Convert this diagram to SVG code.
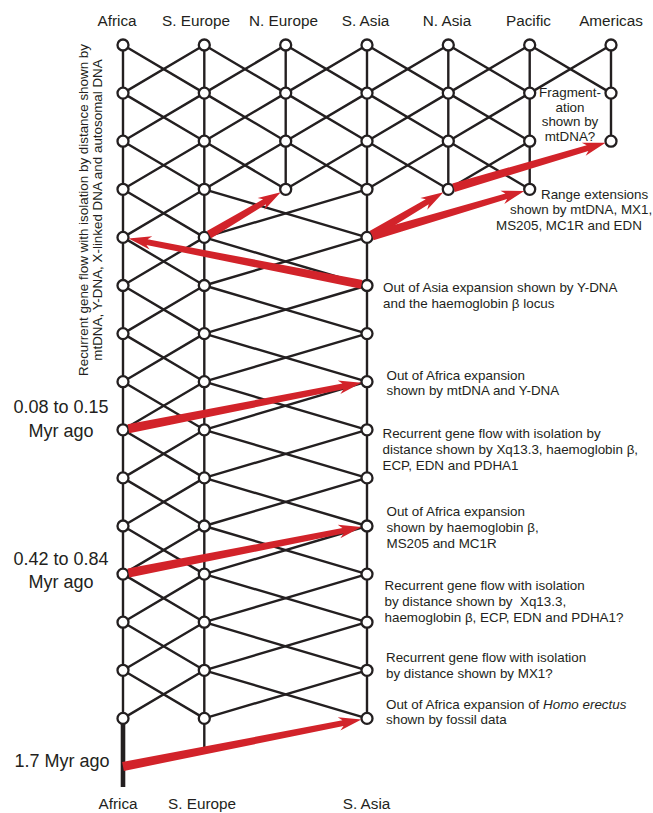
<svg xmlns="http://www.w3.org/2000/svg" width="653" height="813" viewBox="0 0 653 813">
<style>
.ln{stroke:#231f20;stroke-width:2.4;fill:none;stroke-linejoin:round}
.nd{fill:#fff;stroke:#231f20;stroke-width:2.3}
.ar{fill:#d2232a}
text{font-family:"Liberation Sans",Arial,Helvetica,sans-serif;fill:#231f20}
.lb{font-size:13.4px}
.cl{font-size:15.3px;text-anchor:middle}
.tm{font-size:18px;text-anchor:middle}
</style>
<rect width="653" height="813" fill="#fff"/>
<g id="connectors">
<polyline class="ln" points="123,45 204.3,93.1 123,141.2 204.3,189.3 123,237.4 204.3,285.5 123,333.6 204.3,381.7 123,429.8 204.3,477.9 123,526 204.3,574.1 123,622.2 204.3,670.3 123,718.4"/>
<polyline class="ln" points="204.3,45 123,93.1 204.3,141.2 123,189.3 204.3,237.4 123,285.5 204.3,333.6 123,381.7 204.3,429.8 123,477.9 204.3,526 123,574.1 204.3,622.2 123,670.3 204.3,718.4"/>
<polyline class="ln" points="204.3,45 285.7,93.1 204.3,141.2 285.7,189.3"/>
<polyline class="ln" points="285.7,45 204.3,93.1 285.7,141.2 204.3,189.3"/>
<polyline class="ln" points="285.7,45 367,93.1 285.7,141.2 367,189.3"/>
<polyline class="ln" points="367,45 285.7,93.1 367,141.2 285.7,189.3"/>
<polyline class="ln" points="367,45 448.3,93.1 367,141.2 448.3,189.3"/>
<polyline class="ln" points="448.3,45 367,93.1 448.3,141.2 367,189.3"/>
<polyline class="ln" points="448.3,45 529.7,93.1 448.3,141.2 529.7,189.3"/>
<polyline class="ln" points="529.7,45 448.3,93.1 529.7,141.2 448.3,189.3"/>
<polyline class="ln" points="529.7,45 611,93.1"/>
<polyline class="ln" points="611,45 529.7,93.1"/>
<polyline class="ln" points="204.3,189.3 367,237.4 204.3,285.5 367,333.6 204.3,381.7 367,429.8 204.3,477.9 367,526 204.3,574.1 367,622.2 204.3,670.3 367,718.4"/>
<polyline class="ln" points="367,189.3 204.3,237.4 367,285.5 204.3,333.6 367,381.7 204.3,429.8 367,477.9 204.3,526 367,574.1 204.3,622.2 367,670.3 204.3,718.4"/>
<line class="ln" x1="123" y1="45" x2="123" y2="718.4"/>
<line class="ln" x1="123" y1="718.4" x2="123" y2="787" style="stroke-width:4.6"/>
<line class="ln" x1="204.3" y1="45" x2="204.3" y2="748.5"/>
<line class="ln" x1="285.7" y1="45" x2="285.7" y2="189.3"/>
<line class="ln" x1="367" y1="45" x2="367" y2="718.4"/>
<line class="ln" x1="448.3" y1="45" x2="448.3" y2="189.3"/>
<line class="ln" x1="529.7" y1="45" x2="529.7" y2="189.3"/>
<line class="ln" x1="611" y1="45" x2="611" y2="141.2"/>
</g>
<g id="nodes">
<g id="af0"><circle class="nd" cx="123" cy="45" r="5.5"/></g>
<g id="se0"><circle class="nd" cx="204.3" cy="45" r="5.5"/></g>
<g id="ne0"><circle class="nd" cx="285.7" cy="45" r="5.5"/></g>
<g id="sa0"><circle class="nd" cx="367" cy="45" r="5.5"/></g>
<g id="na0"><circle class="nd" cx="448.3" cy="45" r="5.5"/></g>
<g id="pa0"><circle class="nd" cx="529.7" cy="45" r="5.5"/></g>
<g id="am0"><circle class="nd" cx="611" cy="45" r="5.5"/></g>
<g id="af1"><circle class="nd" cx="123" cy="93.1" r="5.5"/></g>
<g id="se1"><circle class="nd" cx="204.3" cy="93.1" r="5.5"/></g>
<g id="ne1"><circle class="nd" cx="285.7" cy="93.1" r="5.5"/></g>
<g id="sa1"><circle class="nd" cx="367" cy="93.1" r="5.5"/></g>
<g id="na1"><circle class="nd" cx="448.3" cy="93.1" r="5.5"/></g>
<g id="pa1"><circle class="nd" cx="529.7" cy="93.1" r="5.5"/></g>
<g id="am1"><circle class="nd" cx="611" cy="93.1" r="5.5"/></g>
<g id="af2"><circle class="nd" cx="123" cy="141.2" r="5.5"/></g>
<g id="se2"><circle class="nd" cx="204.3" cy="141.2" r="5.5"/></g>
<g id="ne2"><circle class="nd" cx="285.7" cy="141.2" r="5.5"/></g>
<g id="sa2"><circle class="nd" cx="367" cy="141.2" r="5.5"/></g>
<g id="na2"><circle class="nd" cx="448.3" cy="141.2" r="5.5"/></g>
<g id="pa2"><circle class="nd" cx="529.7" cy="141.2" r="5.5"/></g>
<g id="am2"><circle class="nd" cx="611" cy="141.2" r="5.5"/></g>
<g id="af3"><circle class="nd" cx="123" cy="189.3" r="5.5"/></g>
<g id="se3"><circle class="nd" cx="204.3" cy="189.3" r="5.5"/></g>
<g id="ne3"><circle class="nd" cx="285.7" cy="189.3" r="5.5"/></g>
<g id="sa3"><circle class="nd" cx="367" cy="189.3" r="5.5"/></g>
<g id="na3"><circle class="nd" cx="448.3" cy="189.3" r="5.5"/></g>
<g id="pa3"><circle class="nd" cx="529.7" cy="189.3" r="5.5"/></g>
<g id="af4"><circle class="nd" cx="123" cy="237.4" r="5.5"/></g>
<g id="se4"><circle class="nd" cx="204.3" cy="237.4" r="5.5"/></g>
<g id="sa4"><circle class="nd" cx="367" cy="237.4" r="5.5"/></g>
<g id="af5"><circle class="nd" cx="123" cy="285.5" r="5.5"/></g>
<g id="se5"><circle class="nd" cx="204.3" cy="285.5" r="5.5"/></g>
<g id="sa5"><circle class="nd" cx="367" cy="285.5" r="5.5"/></g>
<g id="af6"><circle class="nd" cx="123" cy="333.6" r="5.5"/></g>
<g id="se6"><circle class="nd" cx="204.3" cy="333.6" r="5.5"/></g>
<g id="sa6"><circle class="nd" cx="367" cy="333.6" r="5.5"/></g>
<g id="af7"><circle class="nd" cx="123" cy="381.7" r="5.5"/></g>
<g id="se7"><circle class="nd" cx="204.3" cy="381.7" r="5.5"/></g>
<g id="sa7"><circle class="nd" cx="367" cy="381.7" r="5.5"/></g>
<g id="af8"><circle class="nd" cx="123" cy="429.8" r="5.5"/></g>
<g id="se8"><circle class="nd" cx="204.3" cy="429.8" r="5.5"/></g>
<g id="sa8"><circle class="nd" cx="367" cy="429.8" r="5.5"/></g>
<g id="af9"><circle class="nd" cx="123" cy="477.9" r="5.5"/></g>
<g id="se9"><circle class="nd" cx="204.3" cy="477.9" r="5.5"/></g>
<g id="sa9"><circle class="nd" cx="367" cy="477.9" r="5.5"/></g>
<g id="af10"><circle class="nd" cx="123" cy="526" r="5.5"/></g>
<g id="se10"><circle class="nd" cx="204.3" cy="526" r="5.5"/></g>
<g id="sa10"><circle class="nd" cx="367" cy="526" r="5.5"/></g>
<g id="af11"><circle class="nd" cx="123" cy="574.1" r="5.5"/></g>
<g id="se11"><circle class="nd" cx="204.3" cy="574.1" r="5.5"/></g>
<g id="sa11"><circle class="nd" cx="367" cy="574.1" r="5.5"/></g>
<g id="af12"><circle class="nd" cx="123" cy="622.2" r="5.5"/></g>
<g id="se12"><circle class="nd" cx="204.3" cy="622.2" r="5.5"/></g>
<g id="sa12"><circle class="nd" cx="367" cy="622.2" r="5.5"/></g>
<g id="af13"><circle class="nd" cx="123" cy="670.3" r="5.5"/></g>
<g id="se13"><circle class="nd" cx="204.3" cy="670.3" r="5.5"/></g>
<g id="sa13"><circle class="nd" cx="367" cy="670.3" r="5.5"/></g>
<g id="af14"><circle class="nd" cx="123" cy="718.4" r="5.5"/></g>
<g id="se14"><circle class="nd" cx="204.3" cy="718.4" r="5.5"/></g>
<g id="sa14"><circle class="nd" cx="367" cy="718.4" r="5.5"/></g>
</g>
<g id="arrows" class="ar">
<polygon transform="translate(123,766.5) rotate(-11.15)" points="0,-4.5 224.2,-2.9 220.2,-6.8 243,0 220.2,6.8 224.2,2.9 0,4.5"/>
<polygon transform="translate(123,574.1) rotate(-11.15)" points="5.5,-4.5 224.2,-2.9 220.2,-6.8 243,0 220.2,6.8 224.2,2.9 5.5,4.5"/>
<polygon transform="translate(123,429.8) rotate(-11.15)" points="5.5,-4.5 224.2,-2.9 220.2,-6.8 243,0 220.2,6.8 224.2,2.9 5.5,4.5"/>
<polygon transform="translate(367,285.5) rotate(-168.85)" points="5.5,-4.5 224.2,-2.9 220.2,-6.8 243,0 220.2,6.8 224.2,2.9 5.5,4.5"/>
<polygon transform="translate(204.3,237.4) rotate(-30.58)" points="5.5,-4.2 70,-2.9 66,-6.8 88.8,0 66,6.8 70,2.9 5.5,4.2"/>
<polygon transform="translate(367,237.4) rotate(-30.61)" points="5.5,-4.2 70,-2.9 66,-6.8 88.8,0 66,6.8 70,2.9 5.5,4.2"/>
<polygon transform="translate(367,237.4) rotate(-16.47)" points="5.5,-4.5 145.2,-2.9 141.2,-6.8 164,0 141.2,6.8 145.2,2.9 5.5,4.5"/>
<polygon transform="translate(448.3,189.3) rotate(-16.47)" points="5.5,-4.5 145.2,-2.9 141.2,-6.8 164,0 141.2,6.8 145.2,2.9 5.5,4.5"/>
</g>
<g id="column-labels">
<text class="cl" x="117" y="25.5">Africa</text>
<text class="cl" x="196" y="25.5">S. Europe</text>
<text class="cl" x="283.5" y="25.5">N. Europe</text>
<text class="cl" x="365.5" y="25.5">S. Asia</text>
<text class="cl" x="447" y="25.5">N. Asia</text>
<text class="cl" x="528.5" y="25.5">Pacific</text>
<text class="cl" x="611" y="25.5">Americas</text>
<text class="cl" x="118" y="808.5">Africa</text>
<text class="cl" x="202" y="808.5">S. Europe</text>
<text class="cl" x="366.5" y="808.5">S. Asia</text>
</g>
<g id="time-labels">
<text class="tm" x="61" y="413">0.08 to 0.15</text>
<text class="tm" x="61" y="436.5">Myr ago</text>
<text class="tm" x="61" y="565">0.42 to 0.84</text>
<text class="tm" x="61" y="587.5">Myr ago</text>
<text class="tm" x="62" y="766.5">1.7 Myr ago</text>
</g>
<g id="side-label" class="lb" style="text-anchor:middle">
<text class="lb" transform="translate(88,210) rotate(-90)">Recurrent gene flow with isolation by distance shown by</text>
<text class="lb" transform="translate(101.5,210) rotate(-90)">mtDNA, Y-DNA, X-linked DNA and autosomal DNA</text>
</g>
<g id="notes">
<text class="lb" x="570" y="97" text-anchor="middle">Fragment-</text>
<text class="lb" x="570" y="111.5" text-anchor="middle">ation</text>
<text class="lb" x="570" y="126" text-anchor="middle">shown by</text>
<text class="lb" x="570" y="140.5" text-anchor="middle">mtDNA?</text>
<text class="lb" x="541" y="198.5">Range extensions</text>
<text class="lb" x="510" y="214">shown by mtDNA, MX1,</text>
<text class="lb" x="496" y="229.5">MS205, MC1R and EDN</text>
<text class="lb" x="383" y="292">Out of Asia expansion shown by Y-DNA</text>
<text class="lb" x="383" y="307.5">and the haemoglobin β locus</text>
<text class="lb" x="386.5" y="379.5">Out of Africa expansion</text>
<text class="lb" x="386.5" y="395">shown by mtDNA and Y-DNA</text>
<text class="lb" x="382.5" y="437.5">Recurrent gene flow with isolation by</text>
<text class="lb" x="382.5" y="453.5">distance shown by Xq13.3, haemoglobin β,</text>
<text class="lb" x="382.5" y="469.5">ECP, EDN and PDHA1</text>
<text class="lb" x="386.5" y="516">Out of Africa expansion</text>
<text class="lb" x="386.5" y="531.5">shown by haemoglobin β,</text>
<text class="lb" x="386.5" y="547.5">MS205 and MC1R</text>
<text class="lb" x="384.5" y="590">Recurrent gene flow with isolation</text>
<text class="lb" x="384.5" y="606">by distance shown by&#160; Xq13.3,</text>
<text class="lb" x="384.5" y="622">haemoglobin β, ECP, EDN and PDHA1?</text>
<text class="lb" x="386" y="662">Recurrent gene flow with isolation</text>
<text class="lb" x="386" y="678">by distance shown by MX1?</text>
<text class="lb" x="386" y="708.5">Out of Africa expansion of <tspan font-style="italic">Homo erectus</tspan></text>
<text class="lb" x="386" y="724">shown by fossil data</text>
</g>
</svg>
